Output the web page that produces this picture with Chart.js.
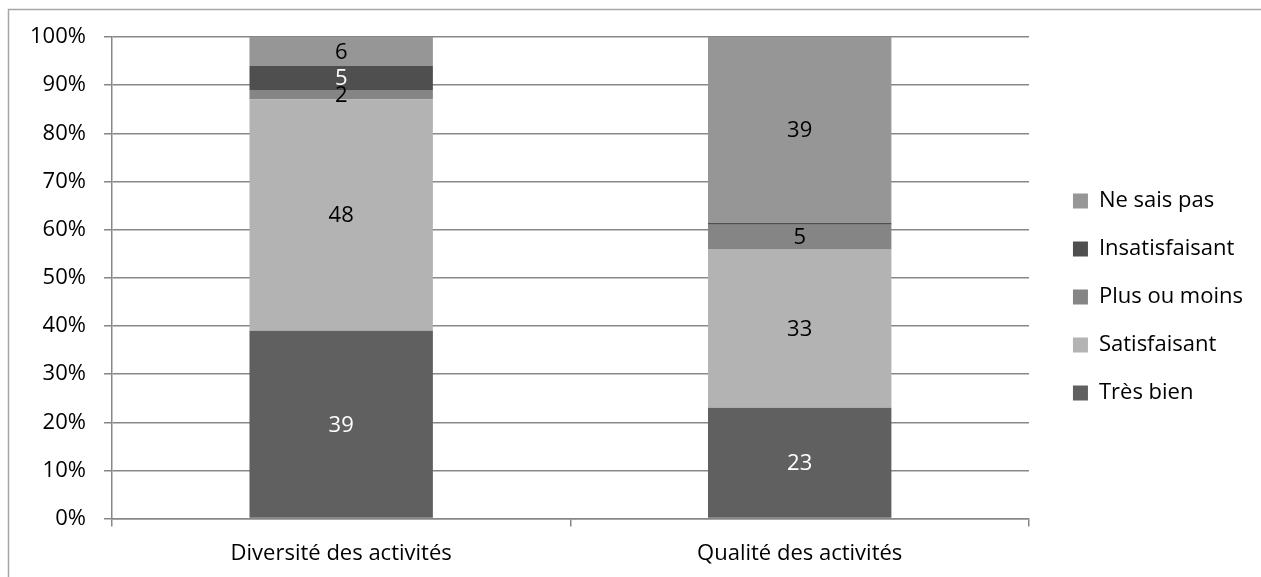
<!DOCTYPE html>
<html>
<head>
<meta charset="utf-8">
<script src="https://cdn.jsdelivr.net/npm/chart.js@4.4.0/dist/chart.umd.min.js"></script>
<style>
  html, body { margin: 0; padding: 0; background: #fff; }
  #wrap { width: 1261px; height: 577px; }
</style>
</head>
<body>
<div id="wrap"><canvas id="myCanvas"></canvas></div>
<script>
'use strict';

// data (percent of answers)
const categories = ['Diversité des activités', 'Qualité des activités'];
const tresBien = [39, 23];
const satisfaisant = [48, 33];
const plusOuMoins = [2, 5];
const insatisfaisant = [5, 0.4];
const neSaisPas = [6, 38.6];
const yTicks = [0, 10, 20, 30, 40, 50, 60, 70, 80, 90, 100];

const gridColor = '#878787';
const font = { family: '"Open Sans", sans-serif', size: 22 };

// draws the value in the middle of each segment
const valueLabels = {
  id: 'valueLabels',
  afterDatasetsDraw(chart) {
    const ctx = chart.ctx;
    ctx.save();
    ctx.font = font.size + 'px ' + font.family;
    ctx.textAlign = 'center';
    ctx.textBaseline = 'middle';
    chart.data.datasets.forEach((ds, i) => {
      const meta = chart.getDatasetMeta(i);
      meta.data.forEach((bar, j) => {
        const v = ds.data[j];
        if (v < 1) return;
        const p = bar.getProps(['x', 'y', 'base'], true);
        ctx.fillStyle = ds.labelColor;
        ctx.fillText(Math.round(v), p.x, (p.y + p.base) / 2 + 1);
      });
    });
    ctx.restore();
  }
};

// outer frame of the chart
const frame = {
  id: 'frame',
  beforeDraw(chart) {
    const ctx = chart.ctx;
    ctx.save();
    ctx.strokeStyle = '#a6a6a6';
    ctx.lineWidth = 1.5;
    ctx.strokeRect(8.5, 9.5, 1400, 800);
    ctx.restore();
  }
};

// leave a gap between plot and legend, and lift the legend a little
const legendGap = {
  id: 'legendGap',
  beforeInit(chart) {
    const lg = chart.legend;
    const fit = lg.fit;
    lg.fit = function () {
      fit.call(lg);
      this.width += 18;
    };
    const draw = lg.draw;
    lg.draw = function () {
      chart.ctx.save();
      chart.ctx.translate(18, -12);
      draw.apply(lg, arguments);
      chart.ctx.restore();
    };
  }
};

const ctx = document.getElementById('myCanvas').getContext('2d');

new Chart(ctx, {
  type: 'bar',
  data: {
    labels: categories,
    datasets: [
      { label: 'Très bien', data: tresBien, backgroundColor: '#606060', labelColor: '#ffffff' },
      { label: 'Satisfaisant', data: satisfaisant, backgroundColor: '#b3b3b3', labelColor: '#000000' },
      { label: 'Plus ou moins', data: plusOuMoins, backgroundColor: '#858585', labelColor: '#000000' },
      { label: 'Insatisfaisant', data: insatisfaisant, backgroundColor: '#4f4f4f', labelColor: '#ffffff' },
      { label: 'Ne sais pas', data: neSaisPas, backgroundColor: '#969696', labelColor: '#000000' }
    ]
  },
  options: {
    responsive: true,
    maintainAspectRatio: false,
    animation: false,
    categoryPercentage: 1,
    barPercentage: 0.4,
    layout: { padding: { top: 37, left: 12, right: 8, bottom: -4 } },
    plugins: {
      tooltip: { enabled: false },
      legend: {
        position: 'right',
        reverse: true,
        labels: {
          boxWidth: 15,
          boxHeight: 15,
          padding: 26,
          color: '#000',
          font: font
        }
      }
    },
    scales: {
      x: {
        stacked: true,
        border: { color: gridColor, width: 1.5 },
        grid: { drawOnChartArea: false, offset: true, tickLength: 8, color: gridColor, lineWidth: 1.5 },
        ticks: { color: '#000', font: font, padding: 14 }
      },
      y: {
        stacked: true,
        min: 0,
        max: 100,
        afterBuildTicks(scale) { scale.ticks = yTicks.map(v => ({ value: v })); },
        border: { color: gridColor, width: 1.5 },
        grid: { color: gridColor, lineWidth: 1.5, tickLength: 8 },
        ticks: { color: '#000', font: font, padding: 18, callback: v => v + '%' }
      }
    }
  },
  plugins: [valueLabels, frame, legendGap]
});
</script>
</body>
</html>
